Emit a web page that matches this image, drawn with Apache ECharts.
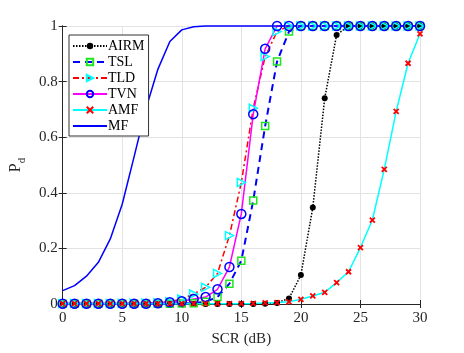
<!DOCTYPE html>
<html>
<head>
<meta charset="utf-8">
<title>Pd vs SCR</title>
<script src="https://cdn.jsdelivr.net/npm/echarts@6/dist/echarts.min.js"></script>
<style>
  html, body { margin: 0; padding: 0; background: #fff; }
  #chart { width: 464px; height: 353px; }
</style>
</head>
<body>
<div id="chart"></div>
<script type="text/javascript">
// SCR (dB) samples
var scr = [0,1,2,3,4,5,6,7,8,9,10,11,12,13,14,15,16,17,18,19,20,21,22,23,24,25,26,27,28,29,30];
// detection probability per detector
var airm = [0,0,0,0,0,0,0,0,0,0,0,0,0,0,0,0,0,0.001,0.004,0.02,0.104,0.347,0.74,0.968,1,1,1,1,1,1,1];
var tsl  = [0.001,0.001,0.001,0.001,0.001,0.001,0.001,0.001,0.001,0.001,0.002,0.003,0.008,0.025,0.073,0.156,0.372,0.64,0.872,0.98,1,1,1,1,1,1,1,1,1,1,1];
var tld  = [0.002,0.002,0.002,0.002,0.002,0.003,0.003,0.004,0.005,0.008,0.018,0.036,0.06,0.11,0.246,0.437,0.704,0.89,0.98,1,1,1,1,1,1,1,1,1,1,1,1];
var tvn  = [0.001,0.001,0.001,0.001,0.001,0.001,0.001,0.001,0.003,0.006,0.01,0.018,0.025,0.053,0.133,0.324,0.683,0.918,1,1,1,1,1,1,1,1,1,1,1,1,1];
var amf  = [0.001,0.001,0.001,0.001,0.001,0.001,0.001,0.001,0.001,0.001,0.001,0.001,0.001,0.001,0.001,0.001,0.002,0.004,0.005,0.008,0.017,0.029,0.042,0.077,0.116,0.203,0.302,0.484,0.693,0.866,0.972];
var mf   = [0.048,0.066,0.10,0.15,0.234,0.359,0.53,0.704,0.845,0.944,0.986,0.997,1,1,1,1,1,1,1,1,1,1,1,1,1,1,1,1,1,1,1];
var names = ['AIRM','TSL','TLD','TVN','AMF','MF'];
var xTicks = [0,5,10,15,20,25,30];

function pairs(arr) {
    var out = [];
    for (var i = 0; i < scr.length; i++) out.push([scr[i], arr[i]]);
    return out;
}

var serif = '"Liberation Serif", "DejaVu Serif", serif';
var boxColor = '#262626';

var legendData = names.map(function (n) {
    // MF has no marker, only its line in the legend
    return n === 'MF' ? { name: n, itemStyle: { opacity: 0 } } : { name: n };
});

var myChart = echarts.init(document.getElementById('chart'));
var option = {
    backgroundColor: '#fff',
    animation: false,
    grid: { left: 60, right: 44, top: 26, bottom: 49 },
    legend: {
        data: legendData,
        orient: 'vertical',
        left: 69, top: 35,
        backgroundColor: '#fff',
        borderColor: '#333',
        borderWidth: 1,
        borderRadius: 0,
        padding: [4, 4, 3, 3],
        itemWidth: 34, itemHeight: 8, itemGap: 2,
        textStyle: { fontFamily: serif, fontSize: 14, color: '#000', padding: [0,0,0,-4] }
    },
    xAxis: [{
        type: 'value', min: 0, max: 30, interval: 5,
        name: 'SCR (dB)', nameLocation: 'middle', nameGap: 28,
        nameTextStyle: { fontFamily: serif, fontSize: 15, color: boxColor },
        axisLine: { lineStyle: { color: boxColor, width: 1 } },
        axisTick: { inside: true, length: 4, lineStyle: { color: boxColor } },
        axisLabel: { fontFamily: serif, fontSize: 15, color: boxColor, margin: 7,
            formatter: function (v) { return xTicks.indexOf(v) >= 0 ? String(v) : ''; } },
        splitLine: { show: true, lineStyle: { color: '#e3e3e3', width: 1 } }
    }, {
        type: 'value', min: 0, max: 30, interval: 5, position: 'top',
        axisLine: { lineStyle: { color: boxColor, width: 1 } },
        axisTick: { inside: true, length: 4, lineStyle: { color: boxColor } },
        axisLabel: { show: false }, splitLine: { show: false }
    }],
    yAxis: [{
        type: 'value', min: 0, max: 1, interval: 0.2,
        name: '{a|P}{b|d}', nameLocation: 'middle', nameGap: 30, nameRotate: 90,
        nameTextStyle: { fontFamily: serif, color: boxColor,
            rich: { a: { fontFamily: serif, fontSize: 16, color: boxColor },
                    b: { fontFamily: serif, fontSize: 11, color: boxColor, verticalAlign: 'bottom', padding: [0,0,-4,0] } } },
        axisLine: { lineStyle: { color: boxColor, width: 1 } },
        axisTick: { inside: true, length: 4, lineStyle: { color: boxColor } },
        axisLabel: { fontFamily: serif, fontSize: 15, color: boxColor, margin: 5,
            formatter: function (v) { return String(Math.round(v * 10) / 10); } },
        splitLine: { show: true, lineStyle: { color: '#e3e3e3', width: 1 } }
    }, {
        type: 'value', min: 0, max: 1, interval: 0.2, position: 'right',
        axisLine: { show: true, lineStyle: { color: boxColor, width: 1 } },
        axisTick: { show: true, inside: true, length: 4, lineStyle: { color: boxColor } },
        axisLabel: { show: false }, splitLine: { show: false }
    }],
    series: [
        {
            name: 'AIRM', type: 'line', data: pairs(airm), clip: false,
            symbol: 'circle', symbolSize: 6,
            itemStyle: { color: '#000' },
            lineStyle: { color: '#000', width: 1.5, type: [1.5, 1.5] }
        },
        {
            name: 'TSL', type: 'line', data: pairs(tsl), clip: false,
            symbol: 'rect', symbolSize: 7,
            itemStyle: { color: 'rgba(0,0,0,0)', borderColor: '#1ee61e', borderWidth: 1.5 },
            lineStyle: { color: '#0000ff', width: 2, type: [7, 5] }
        },
        {
            name: 'TLD', type: 'line', data: pairs(tld), clip: false,
            symbol: 'triangle', symbolRotate: -90, symbolSize: 8,
            itemStyle: { color: 'rgba(0,0,0,0)', borderColor: '#00ffff', borderWidth: 1.5 },
            lineStyle: { color: '#ff0000', width: 1.5, type: [6, 3, 2, 3] }
        },
        {
            name: 'TVN', type: 'line', data: pairs(tvn), clip: false,
            symbol: 'circle', symbolSize: 9,
            itemStyle: { color: 'rgba(0,0,0,0)', borderColor: '#0000ff', borderWidth: 1.5 },
            lineStyle: { color: '#ff00ff', width: 1.5 }
        },
        {
            name: 'AMF', type: 'line', data: pairs(amf), clip: false,
            symbol: 'path://M0,0L10,10M0,10L10,0', symbolSize: 5,
            itemStyle: { color: '#ff0000', borderColor: '#ff0000', borderWidth: 1.8 },
            lineStyle: { color: '#00ffff', width: 1.5 }
        },
        {
            name: 'MF', type: 'line', data: pairs(mf), clip: false,
            showSymbol: false, symbol: 'none',
            itemStyle: { color: '#0000ff' },
            lineStyle: { color: '#0000ff', width: 1.5 }
        }
    ]
};
myChart.setOption(option);
</script>
</body>
</html>
